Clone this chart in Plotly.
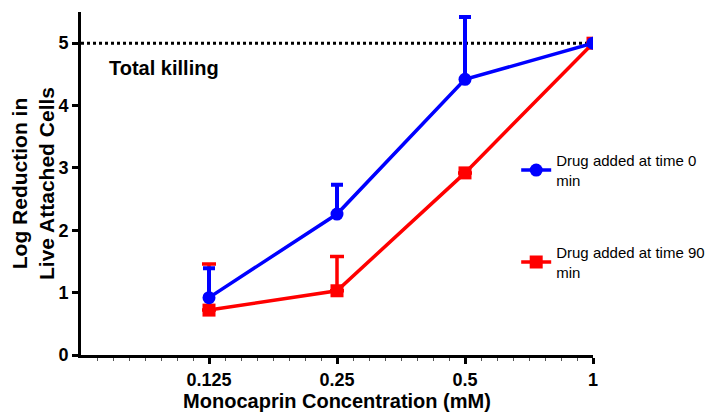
import math
import plotly.graph_objects as go

conc = [0.125, 0.25, 0.5, 1]
tick_labels = ["0.125", "0.25", "0.5", "1"]

# drug added at time 0 min
t0_mean = [0.92, 2.26, 4.42, 5.0]
t0_err = [0.47, 0.47, 1.0, 0.0]

# drug added at time 90 min
t90_mean = [0.72, 1.03, 2.92, 5.0]
t90_err = [0.74, 0.55, 0.0, 0.0]

total_killing = 5

FONT = "Liberation Sans, Arial, sans-serif"
BLUE = "#0000ff"
RED = "#ff0000"

fig = go.Figure()

# dotted "total killing" line
fig.add_trace(go.Scatter(
    x=[0.0625, 1], y=[total_killing, total_killing],
    mode="lines",
    line=dict(color="black", width=3, dash="dot"),
    showlegend=False, hoverinfo="skip"
))

fig.add_trace(go.Scatter(
    x=conc, y=t90_mean,
    mode="lines+markers",
    name="Drug added at time 90<br>min",
    legendgroup="b", legendrank=2,
    line=dict(color=RED, width=3.5),
    marker=dict(symbol="square", size=13, color=RED),
    error_y=dict(type="data", symmetric=False, array=t90_err,
                 arrayminus=[0] * len(t90_err), color=RED, thickness=3.5, width=7)
))

fig.add_trace(go.Scatter(
    x=conc, y=t0_mean,
    mode="lines+markers",
    name="Drug added at time 0<br>min",
    legendgroup="a", legendrank=1,
    line=dict(color=BLUE, width=3.5),
    marker=dict(symbol="circle", size=13, color=BLUE),
    error_y=dict(type="data", symmetric=False, array=t0_err,
                 arrayminus=[0] * len(t0_err), color=BLUE, thickness=4, width=6)
))

minor_vals = [2 ** (k / 8) for k in range(-32, 1) if k % 8 != 0]

fig.add_annotation(
    x=math.log10(0.0625), y=4.6, xref="x", yref="y",
    text="<b>Total killing</b>", showarrow=False,
    xanchor="left", xshift=26,
    font=dict(family=FONT, size=20, color="black")
)

# page body adds ~8px offset, so figure is 8px smaller and shifted
fig.update_layout(
    width=710, height=404,
    margin=dict(l=73, r=125, t=4, b=57, autoexpand=False),
    paper_bgcolor="white", plot_bgcolor="white",
    font=dict(family=FONT, color="black"),
    legend=dict(
        x=0.85, y=0.615, xanchor="left", yanchor="top",
        traceorder="grouped", tracegroupgap=50,
        font=dict(family=FONT, size=15, color="black"),
        bgcolor="rgba(0,0,0,0)"
    ),
    xaxis=dict(
        type="log", automargin=False,
        range=[math.log10(0.0625), math.log10(1)],
        tickvals=conc, ticktext=["<b>%s</b>" % t for t in tick_labels],
        ticks="outside", ticklen=6, tickwidth=3, tickcolor="black",
        tickfont=dict(family=FONT, size=18, color="black"),
        showline=True, linecolor="black", linewidth=3,
        showgrid=False, zeroline=False,
        minor=dict(tickvals=minor_vals, ticks="outside", ticklen=3,
                   tickwidth=1, tickcolor="#555555", showgrid=False),
        title=dict(text="<b>Monocaprin Concentration (mM)</b>",
                   font=dict(family=FONT, size=20, color="black"), standoff=6),
    ),
    yaxis=dict(
        automargin=False,
        range=[0, 5.5],
        tickvals=[0, 1, 2, 3, 4, 5],
        ticktext=["<b>%d</b>" % v for v in range(6)],
        ticks="outside", ticklen=6, tickwidth=3, tickcolor="black",
        tickfont=dict(family=FONT, size=18, color="black"),
        showline=True, linecolor="black", linewidth=3,
        showgrid=False, zeroline=False,
        title=dict(text="<b>Log Reduction in<br>Live Attached Cells</b>",
                   font=dict(family=FONT, size=21, color="black"), standoff=0),
    ),
)

fig.write_html("out.html")
